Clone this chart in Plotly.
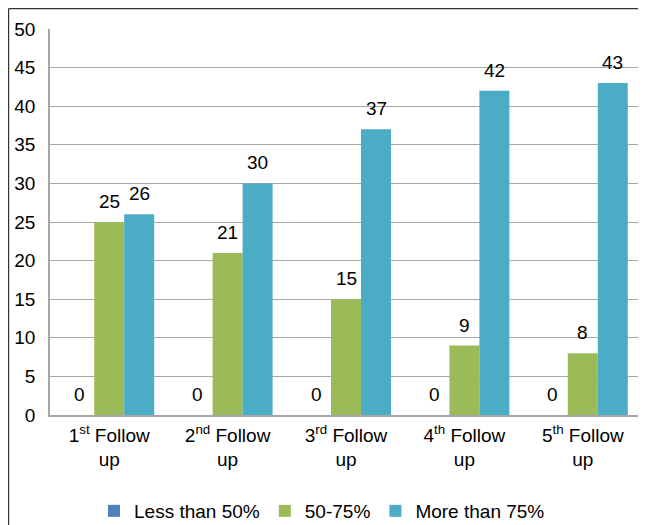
import plotly.graph_objects as go

categories = ["1<sup>st</sup> Follow<br>up", "2<sup>nd</sup> Follow<br>up", "3<sup>rd</sup> Follow<br>up",
              "4<sup>th</sup> Follow<br>up", "5<sup>th</sup> Follow<br>up"]
series_names = ["Less than 50%", "50-75%", "More than 75%"]
less_than_50 = [0, 0, 0, 0, 0]
between_50_75 = [25, 21, 15, 9, 8]
more_than_75 = [26, 30, 37, 42, 43]
y_ticks = [0, 5, 10, 15, 20, 25, 30, 35, 40, 45, 50]

colors = ["#4F81BD", "#9BBB59", "#4BACC6"]
series = [less_than_50, between_50_75, more_than_75]
FONT = "Liberation Sans, Arial, sans-serif"
FS = 19

fig = go.Figure()
for name, vals, col in zip(series_names, series, colors):
    fig.add_trace(go.Bar(x=categories, y=vals, name=name, marker=dict(color=col, line=dict(width=0))))

annotations = []
shifts = [-30, 0, 30]
for vals, xs in zip(series, shifts):
    for c, v in zip(categories, vals):
        annotations.append(dict(x=c, y=v, text=str(v), showarrow=False, xref="x", yref="y",
                                xshift=xs, yshift=8, yanchor="bottom",
                                font=dict(family=FONT, size=FS, color="#000000")))

# page has an 8px body margin, so figure is 8px smaller than the window
W, H = 638, 517
l, r, t, b = 42, 4, 21, 110
pw, ph = W - l - r, H - t - b
def px_x(p):
    return (p - l) / pw
def px_y(p):
    return (H - b - p) / ph

shapes = [
    dict(type="line", xref="paper", yref="paper", x0=px_x(0.6), x1=px_x(700), y0=px_y(0.6), y1=px_y(0.6),
         line=dict(color="#333333", width=1.2)),
    dict(type="line", xref="paper", yref="paper", x0=px_x(0.6), x1=px_x(0.6), y0=px_y(0.6), y1=px_y(600),
         line=dict(color="#333333", width=1.2)),
]

fig.update_layout(
    width=W, height=H,
    margin=dict(l=l, r=r, t=t, b=b),
    paper_bgcolor="white", plot_bgcolor="white",
    barmode="group", bargap=0.24, bargroupgap=0,
    font=dict(family=FONT, size=FS, color="#000000"),
    showlegend=True,
    legend=dict(orientation="h", xref="container", yref="container", x=0.5 - 5 / W, xanchor="center",
                y=1 - 503 / H, yanchor="middle", font=dict(size=FS), itemwidth=30),
    annotations=annotations,
    shapes=shapes,
    xaxis=dict(showline=True, linecolor="#A6A6A6", linewidth=1.5, showgrid=False, ticks="",
               tickfont=dict(size=FS), ticklabelstandoff=2),
    yaxis=dict(range=[0, 50], tickvals=y_ticks, showline=True, linecolor="#A6A6A6", linewidth=1.5,
               showgrid=True, gridcolor="#A6A6A6", gridwidth=1.2, zeroline=False, ticks="",
               tickfont=dict(size=FS), ticklabelstandoff=9),
)

fig.write_html("out.html")
